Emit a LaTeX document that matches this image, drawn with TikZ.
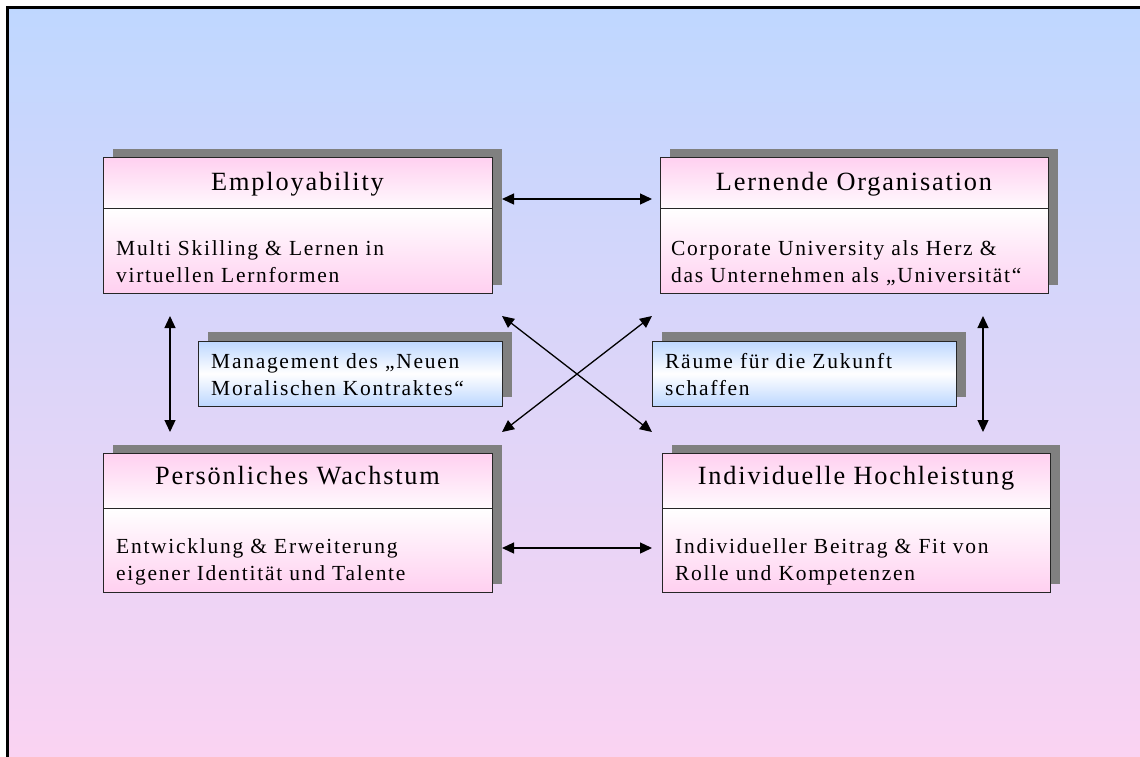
\documentclass[tikz,border=0pt]{standalone}
\usepackage{fontspec}
\setmainfont{Liberation Serif}
\newfontfamily\titlefont{Liberation Serif}[LetterSpace=7]
\newfontfamily\bodyfont{Liberation Serif}[LetterSpace=8]
\usetikzlibrary{arrows.meta,calc}

\definecolor{skyblue}{RGB}{191,215,255}
\definecolor{rosepink}{RGB}{251,211,242}
\definecolor{boxpink}{RGB}{255,208,240}
\definecolor{boxblue}{RGB}{189,215,255}
\definecolor{shadowgray}{RGB}{128,128,128}

\pgfdeclarelayer{backdrop}
\pgfdeclarelayer{shadowlayer}
\pgfsetlayers{backdrop,shadowlayer,main}

\tikzset{
  headbox/.style={draw=black!85, line width=0.8pt, rectangle, inner sep=0pt,
    minimum width=#1, top color=boxpink, bottom color=boxpink!12},
  bodybox/.style={draw=black!85, line width=0.8pt, rectangle, inner sep=0pt,
    minimum width=#1, top color=white, bottom color=boxpink},
  notebox/.style={draw=black!85, line width=0.8pt, rectangle, inner sep=0pt,
    minimum width=304pt, minimum height=65pt,
    top color=boxblue, bottom color=boxblue, middle color=white},
  titletext/.style={inner sep=0pt, anchor=base, font=\titlefont\fontsize{26.3}{30}\selectfont},
  % the base anchor of a two-line node sits on its last line
  bodytext/.style={inner sep=0pt, anchor=base west, align=left,
    font=\bodyfont\fontsize{21.5}{27}\selectfont},
  link/.style={{Triangle[length=12pt,width=11pt]}-{Triangle[length=12pt,width=11pt]},
    line width=1.3pt},
  shade box/.style={fill=shadowgray}
}

\begin{document}
\begin{tikzpicture}[x=1pt,y=-1pt]
\useasboundingbox (0,0) rectangle (1140,756);

% page background and frame
\begin{pgfonlayer}{backdrop}
  \fill[top color=skyblue, bottom color=rosepink] (7.5,7.5) rectangle (1150,765);
  \draw[line width=3pt] (7.5,765) -- (7.5,7.5) -- (1150,7.5);
\end{pgfonlayer}

% four main boxes: header and body parts
\node[headbox=389pt, minimum height=51pt] (empH) at (297.5,182.5) {};
\node[bodybox=389pt, minimum height=85pt] (empB) at (297.5,250.5) {};
\node[headbox=388pt, minimum height=51pt] (lernH) at (854,182.5) {};
\node[bodybox=388pt, minimum height=85pt] (lernB) at (854,250.5) {};
\node[headbox=389pt, minimum height=55pt] (persH) at (297.5,480.5) {};
\node[bodybox=389pt, minimum height=84pt] (persB) at (297.5,550) {};
\node[headbox=388pt, minimum height=55pt] (indH) at (856,480.5) {};
\node[bodybox=388pt, minimum height=84pt] (indB) at (856,550) {};

% two note boxes in the middle
\node[notebox] (mgmt) at (350,373.5) {};
\node[notebox] (raum) at (804,373.5) {};

% shadows behind the boxes
\begin{pgfonlayer}{shadowlayer}
  \foreach \h/\b in {empH/empB, lernH/lernB, persH/persB, indH/indB}
    \fill[shade box] ($(\h.north west)+(10,-8)$) rectangle ($(\b.south east)+(10,-8)$);
  \foreach \n in {mgmt, raum}
    \fill[shade box] ($(\n.north west)+(10,-9)$) rectangle ($(\n.south east)+(10,-9)$);
\end{pgfonlayer}

% titles
\node[titletext] (empT) at ($(empH.north)+(0,33.4)$) {Employability};
\node[titletext] (lernT) at ($(lernH.north)+(0,33.4)$) {Lernende Organisation};
\node[titletext] (persT) at ($(persH.north)+(0,32.3)$) {Persönliches Wachstum};
\node[titletext] (indT) at ($(indH.north)+(0,32.3)$) {Individuelle Hochleistung};

% body texts
\node[bodytext] (empX) at (116,282) {Multi Skilling \& Lernen in\\virtuellen Lernformen};
\node[bodytext] (lernX) at (671,282) {Corporate University als Herz \&\\das Unternehmen als „Universität“};
\node[bodytext] (persX) at (116,580) {Entwicklung \& Erweiterung\\eigener Identität und Talente};
\node[bodytext] (indX) at (675,580) {Individueller Beitrag \& Fit von\\Rolle und Kompetenzen};
\node[bodytext] (mgmtX) at (211,395) {Management des „Neuen\\Moralischen Kontraktes“};
\node[bodytext] (raumX) at (665,395) {Räume für die Zukunft\\schaffen};

% arrow end points
\coordinate (topL) at (502,199);
\coordinate (topR) at (652,199);
\coordinate (botL) at (502,548);
\coordinate (botR) at (652,548);
\coordinate (leftU) at (170,316);
\coordinate (leftD) at (170,432);
\coordinate (rightU) at (983,316);
\coordinate (rightD) at (983,432);
\coordinate (xNW) at (502,316);
\coordinate (xNE) at (652,316);
\coordinate (xSW) at (502,432);
\coordinate (xSE) at (652,432);

% connectors
\draw[link] (topL) -- (topR);
\draw[link] (botL) -- (botR);
\draw[link] (leftU) -- (leftD);
\draw[link] (rightU) -- (rightD);
\draw[link] (xNW) -- (xSE);
\draw[link] (xNE) -- (xSW);
\end{tikzpicture}
\end{document}
